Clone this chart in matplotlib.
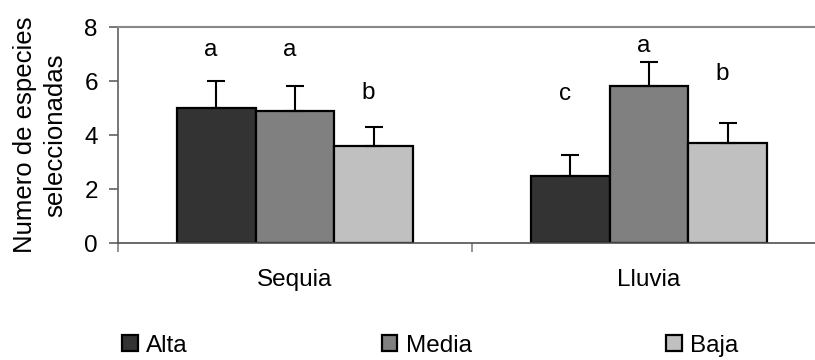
import matplotlib
matplotlib.use("Agg")
import matplotlib.pyplot as plt
import numpy as np

plt.rcParams['font.family'] = ['Liberation Sans', 'DejaVu Sans']

groups = ["Sequia", "Lluvia"]
levels = ["Alta", "Media", "Baja"]
means = {
    "Alta": [5.0, 2.5],
    "Media": [4.9, 5.8],
    "Baja": [3.6, 3.7],
}
errors = {
    "Alta": [1.0, 0.75],
    "Media": [0.9, 0.9],
    "Baja": [0.7, 0.75],
}
letters = {
    "Alta": ["a", "c"],
    "Media": ["a", "a"],
    "Baja": ["b", "b"],
}
letter_y = {
    "Alta": [7.15, 5.5],
    "Media": [7.15, 7.3],
    "Baja": [5.55, 6.25],
}
colors = ["#333333", "#808080", "#c0c0c0"]

fs = 17.5

fig = plt.figure(figsize=(8.15, 3.6), dpi=100)
ax = fig.add_axes([0.1448, 0.325, 0.8687, 0.60])

x = np.arange(len(groups))
w = 0.223
for i, lev in enumerate(levels):
    pos = x + (i - 1) * w
    ax.bar(pos, means[lev], w, color=colors[i], edgecolor="black",
           linewidth=1.6, label=lev, zorder=2)
    ax.errorbar(pos, means[lev], yerr=[np.zeros(len(groups)), errors[lev]],
                fmt="none", ecolor="black", elinewidth=1.5, capsize=6.8,
                capthick=1.5, zorder=3)
    for j in range(len(groups)):
        ax.text(pos[j] - 0.015, letter_y[lev][j], letters[lev][j],
                ha="center", va="center", fontsize=fs)

ax.set_xlim(-0.5, 1.5)
ax.set_ylim(0, 8)
ax.set_yticks([0, 2, 4, 6, 8])
ax.set_xticks(x)
ax.set_xticklabels(groups, fontsize=fs)
ax.set_xticks([-0.5, 0.5, 1.5], minor=True)
ax.tick_params(axis="x", which="major", length=0, pad=19)
ax.tick_params(axis="x", which="minor", length=6.5, color="#808080", width=1.2)
ax.tick_params(axis="y", labelsize=fs, length=6.5, color="#606060", width=1.2,
               pad=8)

ax.spines["right"].set_visible(False)
ax.spines["top"].set_color("#888888")
ax.spines["top"].set_linewidth(1.5)
ax.spines["left"].set_color("#606060")
ax.spines["left"].set_linewidth(1.2)
ax.spines["bottom"].set_color("#505050")
ax.spines["bottom"].set_linewidth(1.2)

ax.set_ylabel("Numero de especies\nseleccionadas", fontsize=18.5, labelpad=12,
              linespacing=1.35)

fig.legend(loc="lower left", bbox_to_anchor=(0.138, -0.018), ncol=3,
           frameon=False, fontsize=fs, handlelength=0.63, handleheight=0.63,
           handletextpad=0.35, columnspacing=8.0, borderaxespad=0)

fig.savefig("out.png", dpi=100)
